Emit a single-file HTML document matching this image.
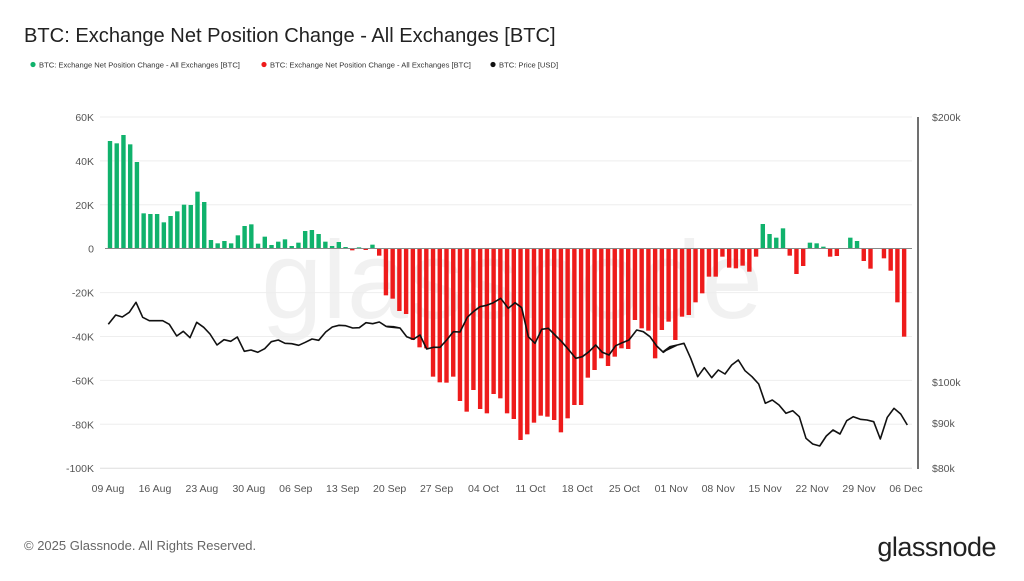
<!DOCTYPE html>
<html><head><meta charset="utf-8"><style>
html,body{margin:0;padding:0;background:#fff;}
body{width:1024px;height:576px;overflow:hidden;font-family:"Liberation Sans",sans-serif;}
</style></head><body>
<svg id="s" width="1024" height="576" xmlns="http://www.w3.org/2000/svg" font-family="Liberation Sans, sans-serif">
<text x="24" y="42" font-size="20.1" fill="#222">BTC: Exchange Net Position Change - All Exchanges [BTC]</text>
<circle cx="33" cy="64.5" r="2.6" fill="#10b26c"/>
<text x="39" y="67.5" font-size="7.6" fill="#333">BTC: Exchange Net Position Change - All Exchanges [BTC]</text>
<circle cx="264" cy="64.5" r="2.6" fill="#ee1b1b"/>
<text x="270" y="67.5" font-size="7.6" fill="#333">BTC: Exchange Net Position Change - All Exchanges [BTC]</text>
<circle cx="493" cy="64.5" r="2.6" fill="#111"/>
<text x="499" y="67.5" font-size="7.6" fill="#333">BTC: Price [USD]</text>
<text x="512" y="318" font-size="110" fill="#000" fill-opacity="0.055" text-anchor="middle">glassnode</text>
<g id="grid"></g>
<g id="bars"></g>
<g id="line"></g>
<line x1="918" y1="117" x2="918" y2="469" stroke="#111" stroke-width="1.2"/>
<g font-size="10.5" fill="#555">
<text x="932" y="121">$200k</text>
<text x="932" y="386">$100k</text>
<text x="932" y="427">$90k</text>
<text x="932" y="472">$80k</text>
</g>
<text x="24" y="550" font-size="13" fill="#666">© 2025 Glassnode. All Rights Reserved.</text>
<text x="996" y="556" font-size="27" fill="#222" text-anchor="end" letter-spacing="-0.5">glassnode</text>
</svg>
<script>
var NS="http://www.w3.org/2000/svg";
function el(p,t,a,txt){var e=document.createElementNS(NS,t);for(var k in a)e.setAttribute(k,a[k]);if(txt!=null)e.textContent=txt;document.getElementById(p).appendChild(e);}
var labs=["60K","40K","20K","0","-20K","-40K","-60K","-80K","-100K"];
for(var i=0;i<9;i++){var y=117+i*43.9;
 if(i!=3)el("grid","line",{x1:100,x2:912,y1:y,y2:y,stroke:i==8?"#ddd":"#eee","stroke-width":1});
 el("grid","text",{x:94,y:y+4,"font-size":10.5,fill:"#555","text-anchor":"end"},labs[i]);}
var d=["09 Aug","16 Aug","23 Aug","30 Aug","06 Sep","13 Sep","20 Sep","27 Sep","04 Oct","11 Oct","18 Oct","25 Oct","01 Nov","08 Nov","15 Nov","22 Nov","29 Nov","06 Dec"];
for(var i=0;i<d.length;i++){el("grid","text",{x:108+i*46.94,y:492,"font-size":10.5,fill:"#555","text-anchor":"middle"},d[i]);}
var Z=248.5;
var z1=[93,100,75,103,156,310,312,312,337,318,304,284,285,245,276,390,400,393,400,376,348,343,401,380,405,395,388,408,398,363,360,372,395,408,396,411,421,412,420,404,437,556,566,603];
var z2=[222,300,322,325,410,427,428,410,483,515,450,507,520,462,475,520,537,600,583,548,527,530,540,577,535,495,495,413,390,355,378,350,325,327,240,265,272,355,270,245,300];
var z3=[620,615,577,550,500,500,440,473,475,467,485,440,342,372,383,355,437,492,468,398,400,410,440,438,415,383,393,453,476,415,445,482,577,680];
var ys=[];
z1.forEach(function(v){ys.push(110+v/3)});
z2.forEach(function(v){ys.push(240+v/3)});
z3.forEach(function(v){ys.push(110+v/3)});
for(var n=0;n<ys.length;n++){var x=110+6.73*n,y=ys[n];if(Math.abs(y-Z)<0.6)continue;
 var g=y<Z;el("bars","rect",{x:x-2.2,y:Math.min(y,Z),width:4.4,height:Math.abs(y-Z),fill:g?"#10b26c":"#ee1b1b"});}
el("bars","line",{x1:105,x2:912,y1:Z,y2:Z,stroke:"#888","stroke-width":1});
var l1=[[25,643],[47,615],[67,621],[88,607],[108,577],[128,622],[148,632],[168,632],[188,632],[208,643],[230,678],[250,664],[270,683],[290,637],[311,652],[330,672],[351,705],[372,689],[392,694],[412,681],[433,724],[453,720],[473,727],[494,716],[514,695],[535,690],[555,700],[575,701],[596,706],[616,697],[636,687],[656,691],[677,666],[697,651],[717,646],[737,647],[758,654],[778,653],[798,638],[818,641],[838,636],[858,649],[878,650],[898,654]];
var l2=[[20,260],[40,260],[60,264],[80,290],[100,298],[120,285],[140,327],[160,322],[180,322],[200,300],[220,275],[240,276],[262,232],[280,215],[300,200],[320,196],[340,188],[362,175],[385,205],[405,188],[425,203],[445,290],[465,310],[485,268],[505,265],[525,285],[545,305],[565,328],[587,355],[607,350],[627,335],[647,315],[667,337],[687,345],[707,317],[727,308],[747,300],[770,270],[790,275],[810,290],[830,318],[850,337],[870,322],[890,316]];
var l3=[[10,725],[30,710],[52,705],[72,700],[92,745],[113,800],[133,773],[155,803],[175,780],[195,792],[215,765],[235,750],[255,782],[276,800],[296,822],[316,880],[337,870],[357,885],[378,910],[398,902],[418,920],[438,985],[458,1002],[479,1008],[499,978],[519,960],[540,972],[560,932],[580,920],[601,928],[621,930],[641,935],[661,987],[682,922],[702,895],[722,912],[742,945]];
var pts=[];
l1.forEach(function(p){pts.push((100+p[0]/3).toFixed(1)+","+(110+p[1]/3).toFixed(1))});
l2.forEach(function(p){pts.push((380+p[0]/3).toFixed(1)+","+(240+p[1]/3).toFixed(1))});
l3.forEach(function(p){pts.push((660+p[0]/3).toFixed(1)+","+(110+p[1]/3).toFixed(1))});
el("line","polyline",{points:pts.join(" "),fill:"none",stroke:"#111","stroke-width":1.6,"stroke-linejoin":"round"});
</script>
</body></html>
